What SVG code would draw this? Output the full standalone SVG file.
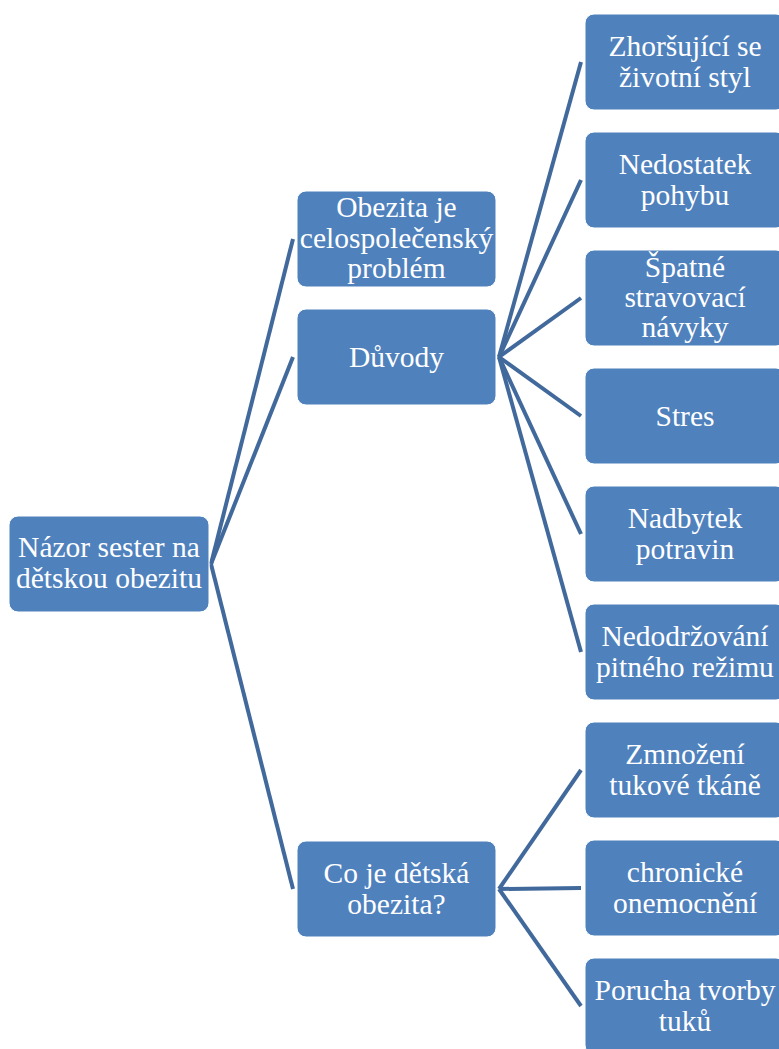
<svg xmlns="http://www.w3.org/2000/svg" width="779" height="1049" viewBox="0 0 779 1049">
  <defs>
    <style>
      .box { fill: #4F81BD; stroke: #FFFFFF; stroke-width: 1; }
      .conn { stroke: #41699C; stroke-width: 4; fill: none; }
    </style>
  </defs>
  <rect width="779" height="1049" fill="#FFFFFF"/>

  <!-- connectors -->
  <g id="connectors" class="conn">
    <line x1="211" y1="564" x2="293" y2="239"/>
    <line x1="211" y1="564" x2="293" y2="357"/>
    <line x1="211" y1="564" x2="293" y2="889"/>
    <line x1="499" y1="357" x2="581" y2="62"/>
    <line x1="499" y1="357" x2="581" y2="180"/>
    <line x1="499" y1="357" x2="581" y2="298"/>
    <line x1="499" y1="357" x2="581" y2="416"/>
    <line x1="499" y1="357" x2="581" y2="534"/>
    <line x1="499" y1="357" x2="581" y2="652"/>
    <line x1="499" y1="889" x2="581" y2="770"/>
    <line x1="499" y1="889" x2="581" y2="888"/>
    <line x1="499" y1="889" x2="581" y2="1006"/>
  </g>

  <!-- root -->
  <g id="root">
    <rect class="box" x="9" y="516" width="200" height="96" rx="9"/>
    <text x="109" y="557" font-family="Liberation Serif" font-size="29.5" fill="#FFFFFF" text-anchor="middle">Názor sester na</text>
    <text x="109" y="588" font-family="Liberation Serif" font-size="29.5" fill="#FFFFFF" text-anchor="middle">dětskou obezitu</text>
  </g>

  <!-- level 1 -->
  <g id="obezita">
    <rect class="box" x="297" y="191" width="199" height="96" rx="9"/>
    <text x="396.5" y="217" font-family="Liberation Serif" font-size="29.5" fill="#FFFFFF" text-anchor="middle">Obezita je</text>
    <text x="396.5" y="248" font-family="Liberation Serif" font-size="29.5" fill="#FFFFFF" text-anchor="middle">celospolečenský</text>
    <text x="396.5" y="278" font-family="Liberation Serif" font-size="29.5" fill="#FFFFFF" text-anchor="middle">problém</text>
  </g>
  <g id="duvody">
    <rect class="box" x="297" y="309" width="199" height="96" rx="9"/>
    <text x="396.5" y="367" font-family="Liberation Serif" font-size="29.5" fill="#FFFFFF" text-anchor="middle">Důvody</text>
  </g>
  <g id="co-je">
    <rect class="box" x="297" y="841" width="199" height="96" rx="9"/>
    <text x="396.5" y="883" font-family="Liberation Serif" font-size="29.5" fill="#FFFFFF" text-anchor="middle">Co je dětská</text>
    <text x="396.5" y="914" font-family="Liberation Serif" font-size="29.5" fill="#FFFFFF" text-anchor="middle">obezita?</text>
  </g>

  <!-- level 2: reasons -->
  <g id="zhorsujici">
    <rect class="box" x="585" y="14" width="200" height="96" rx="9"/>
    <text x="685" y="56" font-family="Liberation Serif" font-size="29.5" fill="#FFFFFF" text-anchor="middle">Zhoršující se</text>
    <text x="685" y="87" font-family="Liberation Serif" font-size="29.5" fill="#FFFFFF" text-anchor="middle">životní styl</text>
  </g>
  <g id="nedostatek">
    <rect class="box" x="585" y="132" width="200" height="96" rx="9"/>
    <text x="685" y="174" font-family="Liberation Serif" font-size="29.5" fill="#FFFFFF" text-anchor="middle">Nedostatek</text>
    <text x="685" y="205" font-family="Liberation Serif" font-size="29.5" fill="#FFFFFF" text-anchor="middle">pohybu</text>
  </g>
  <g id="spatne">
    <rect class="box" x="585" y="250" width="200" height="96" rx="9"/>
    <text x="685" y="277" font-family="Liberation Serif" font-size="29.5" fill="#FFFFFF" text-anchor="middle">Špatné</text>
    <text x="685" y="307" font-family="Liberation Serif" font-size="29.5" fill="#FFFFFF" text-anchor="middle">stravovací</text>
    <text x="685" y="337" font-family="Liberation Serif" font-size="29.5" fill="#FFFFFF" text-anchor="middle">návyky</text>
  </g>
  <g id="stres">
    <rect class="box" x="585" y="368" width="200" height="96" rx="9"/>
    <text x="685" y="426" font-family="Liberation Serif" font-size="29.5" fill="#FFFFFF" text-anchor="middle">Stres</text>
  </g>
  <g id="nadbytek">
    <rect class="box" x="585" y="486" width="200" height="96" rx="9"/>
    <text x="685" y="528" font-family="Liberation Serif" font-size="29.5" fill="#FFFFFF" text-anchor="middle">Nadbytek</text>
    <text x="685" y="559" font-family="Liberation Serif" font-size="29.5" fill="#FFFFFF" text-anchor="middle">potravin</text>
  </g>
  <g id="nedodrzovani">
    <rect class="box" x="585" y="604" width="200" height="96" rx="9"/>
    <text x="685" y="646" font-family="Liberation Serif" font-size="29.5" fill="#FFFFFF" text-anchor="middle">Nedodržování</text>
    <text x="685" y="677" font-family="Liberation Serif" font-size="29.5" fill="#FFFFFF" text-anchor="middle">pitného režimu</text>
  </g>

  <!-- level 2: definition -->
  <g id="zmnozeni">
    <rect class="box" x="585" y="722" width="200" height="96" rx="9"/>
    <text x="685" y="764" font-family="Liberation Serif" font-size="29.5" fill="#FFFFFF" text-anchor="middle">Zmnožení</text>
    <text x="685" y="795" font-family="Liberation Serif" font-size="29.5" fill="#FFFFFF" text-anchor="middle">tukové tkáně</text>
  </g>
  <g id="chronicke">
    <rect class="box" x="585" y="840" width="200" height="96" rx="9"/>
    <text x="685" y="882" font-family="Liberation Serif" font-size="29.5" fill="#FFFFFF" text-anchor="middle">chronické</text>
    <text x="685" y="913" font-family="Liberation Serif" font-size="29.5" fill="#FFFFFF" text-anchor="middle">onemocnění</text>
  </g>
  <g id="porucha">
    <rect class="box" x="585" y="958" width="200" height="96" rx="9"/>
    <text x="685" y="1000" font-family="Liberation Serif" font-size="29.5" fill="#FFFFFF" text-anchor="middle">Porucha tvorby</text>
    <text x="685" y="1031" font-family="Liberation Serif" font-size="29.5" fill="#FFFFFF" text-anchor="middle">tuků</text>
  </g>
</svg>
